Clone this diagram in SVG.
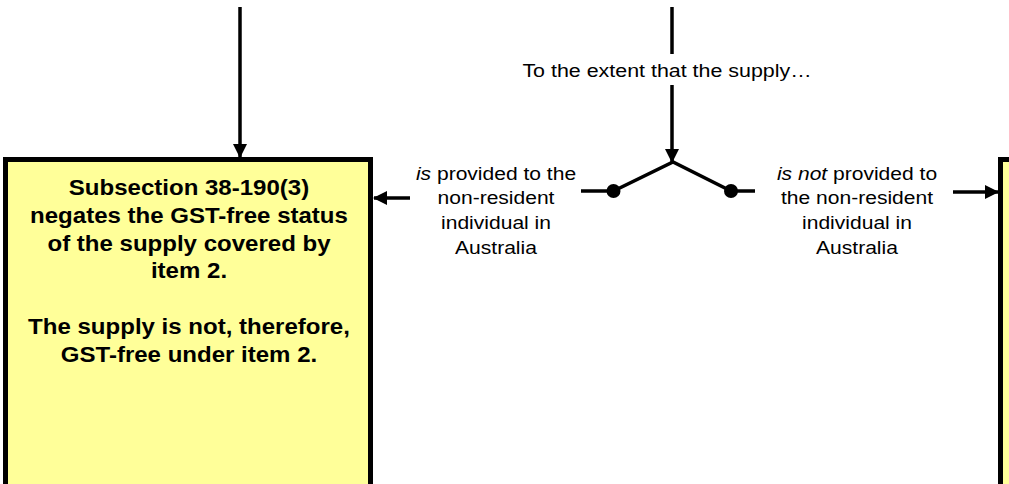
<svg xmlns="http://www.w3.org/2000/svg" width="1009" height="484" viewBox="0 0 1009 484">
<style>
.box{fill:#FFFF99;stroke:#000;stroke-width:5}
.ln{stroke:#000;stroke-width:3.5;fill:none}
.bt{font-family:"Liberation Sans",Arial,sans-serif;font-weight:bold;font-size:22px;text-anchor:middle;fill:#000}
.lt{font-family:"Liberation Sans",Arial,sans-serif;font-size:18.5px;text-anchor:middle;fill:#000}
</style>
<defs>
<marker id="ah" markerWidth="14" markerHeight="14" refX="13" refY="7" orient="auto" markerUnits="userSpaceOnUse" viewBox="0 0 14 14">
<path d="M0,0 L14,7 L0,14 z" fill="#000"/>
</marker>
</defs>
<rect width="1009" height="484" fill="#fff"/>
<g id="node-left">
<rect class="box" x="5.5" y="159.5" width="365" height="340"/>
<text class="bt" transform="translate(189,0) scale(1.093,1)"><tspan x="0" y="195">Subsection 38-190(3)</tspan><tspan x="0" y="223">negates the GST-free status</tspan><tspan x="0" y="251">of the supply covered by</tspan><tspan x="0" y="278">item 2.</tspan><tspan x="0" y="334">The supply is not, therefore,</tspan><tspan x="0" y="362">GST-free under item 2.</tspan></text>
</g>
<g id="node-right">
<rect class="box" x="1000.5" y="159.5" width="40" height="340"/>
</g>
<g id="decision">
<text class="lt" transform="translate(667,0) scale(1.158,1)" x="0" y="77">To the extent that the supply…</text>
<circle cx="613.5" cy="191" r="7" fill="#000"/>
<circle cx="731" cy="191" r="7" fill="#000"/>
<text class="lt" transform="translate(496,0) scale(1.138,1)"><tspan x="0" y="180"><tspan font-style="italic">is</tspan> provided to the</tspan><tspan x="0" y="204">non-resident</tspan><tspan x="0" y="229">individual in</tspan><tspan x="0" y="254">Australia</tspan></text>
<text class="lt" transform="translate(857,0) scale(1.138,1)"><tspan x="0" y="180"><tspan font-style="italic">is not</tspan> provided to</tspan><tspan x="0" y="204">the non-resident</tspan><tspan x="0" y="229">individual in</tspan><tspan x="0" y="254">Australia</tspan></text>
</g>
<g id="connectors">
<line class="ln" x1="240" y1="7" x2="240" y2="157" marker-end="url(#ah)"/>
<line class="ln" x1="672" y1="7" x2="672" y2="54"/>
<line class="ln" x1="672" y1="85" x2="672" y2="162" marker-end="url(#ah)"/>
<polyline class="ln" points="581,191 613.5,191 673,162 731,191 755,191"/>
<line class="ln" x1="410" y1="198" x2="374" y2="198" marker-end="url(#ah)"/>
<line class="ln" x1="953" y1="192" x2="998" y2="192" marker-end="url(#ah)"/>
</g>
</svg>
